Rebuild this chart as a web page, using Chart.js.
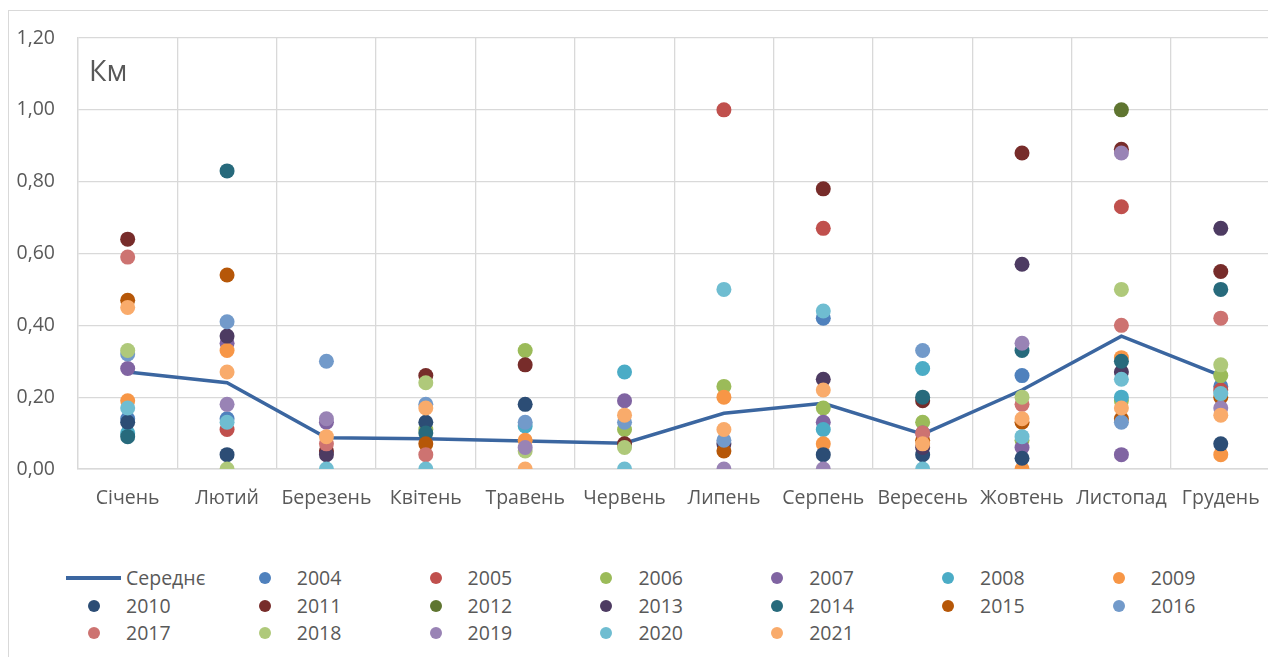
<!DOCTYPE html>
<html><head><meta charset="utf-8">
<script src="https://cdn.jsdelivr.net/npm/chart.js@4.4.1/dist/chart.umd.min.js"></script>
<style>
html,body{margin:0;padding:0;background:#fff;overflow:hidden;width:1268px;height:657px;}
#frame{position:absolute;left:8px;top:10px;width:1400px;height:800px;border:1.5px solid #d9d9d9;box-sizing:border-box;}
#wrap{position:absolute;left:0;top:0;width:1278px;height:530px;}
#unit{position:absolute;left:89px;top:51px;font-family:'Open Sans',sans-serif;font-size:28.5px;color:#595959;line-height:38px;}
.lg{position:absolute;font-family:'Open Sans',sans-serif;font-size:19.5px;color:#595959;line-height:24px;white-space:nowrap;}
.mk{position:absolute;width:12px;height:12px;border-radius:50%;}
.ln{position:absolute;height:3.5px;}
</style></head>
<body>
<div id="frame"></div>
<div id="wrap"><canvas id="c" width="1278" height="530"></canvas></div>
<div id="unit">Км</div>
<div id="legend"></div>
<script>
const months = ['Січень','Лютий','Березень','Квітень','Травень','Червень','Липень','Серпень','Вересень','Жовтень','Листопад','Грудень'];
const yTickLabels = ['0,00','0,20','0,40','0,60','0,80','1,00','1,20'];
const avgLabel = 'Середнє';
const avgValues = [0.27, 0.24, 0.087, 0.084, 0.078, 0.072, 0.155, 0.183, 0.097, 0.22, 0.37, 0.26];
const years = ['2004','2005','2006','2007','2008','2009','2010','2011','2012','2013','2014','2015','2016','2017','2018','2019','2020','2021'];
const v2004 = [0.14, 0.14, null, null, null, null, null, 0.42, null, 0.26, null, 0.23];
const v2005 = [null, 0.11, null, null, null, null, 1.00, 0.67, null, null, 0.73, 0.22];
const v2006 = [null, null, null, 0.11, 0.33, 0.11, 0.23, 0.17, 0.13, 0.08, 0.19, 0.26];
const v2007 = [0.28, 0.35, 0.13, null, null, 0.19, null, 0.13, 0.10, 0.06, 0.04, null];
const v2008 = [0.10, null, null, null, 0.12, 0.27, null, 0.11, 0.28, null, 0.20, null];
const v2009 = [0.19, 0.33, null, null, 0.08, null, 0.20, 0.07, null, 0.00, 0.31, 0.04];
const v2010 = [0.13, 0.04, null, 0.13, 0.18, null, null, 0.04, 0.04, 0.03, null, 0.07];
const v2011 = [0.64, null, 0.05, 0.26, 0.29, 0.07, null, 0.78, 0.19, 0.88, 0.89, 0.55];
const v2012 = [null, null, null, null, null, null, null, null, null, null, 1.00, null];
const v2013 = [null, 0.37, 0.04, null, null, null, 0.07, 0.25, 0.06, 0.57, 0.27, 0.67];
const v2014 = [0.09, 0.83, null, 0.10, null, null, null, null, 0.20, 0.33, 0.30, 0.50];
const v2015 = [0.47, 0.54, null, 0.07, null, null, 0.05, null, 0.08, 0.13, 0.14, 0.20];
const v2016 = [0.32, 0.41, 0.30, 0.18, 0.13, 0.13, 0.08, null, 0.33, null, 0.13, null];
const v2017 = [0.59, null, 0.07, 0.04, null, null, null, null, 0.10, 0.18, 0.40, 0.42];
const v2018 = [0.33, 0.00, null, 0.24, 0.05, 0.06, null, null, null, 0.20, 0.50, 0.29];
const v2019 = [null, 0.18, 0.14, null, 0.06, null, 0.00, 0.00, null, 0.35, 0.88, 0.17];
const v2020 = [0.17, 0.13, 0.00, 0.00, null, 0.00, 0.50, 0.44, 0.00, 0.09, 0.25, 0.21];
const v2021 = [0.45, 0.27, 0.09, 0.17, 0.00, 0.15, 0.11, 0.22, 0.07, 0.14, 0.17, 0.15];
const yearValues = [v2004,v2005,v2006,v2007,v2008,v2009,v2010,v2011,v2012,v2013,v2014,v2015,v2016,v2017,v2018,v2019,v2020,v2021];

const avgColor = '#3b66a0';
const yearColors = ['#4F81BD','#C0504D','#9BBB59','#8064A2','#4BACC6','#F79646',
  '#2C4D75','#772C2A','#5F7530','#4D3B62','#276A7C','#B65708',
  '#729ACA','#CD7371','#AFC97A','#9983B5','#6FBDD1','#F9AB6B'];
const textColor = '#595959';
const gridColor = '#d9d9d9';
const FONT = "'Open Sans'";
const FSIZE = 19.5;

const datasets = [{
  label: avgLabel, data: avgValues, borderColor: avgColor, backgroundColor: avgColor,
  borderWidth: 3.5, pointRadius: 0, tension: 0, order: 100, showLine: true
}];
years.forEach((y, i) => {
  datasets.push({
    label: y, data: yearValues[i], showLine: false,
    backgroundColor: yearColors[i], borderColor: yearColors[i],
    pointRadius: 7.5, pointHoverRadius: 7.5, pointBorderWidth: 0, pointHoverBorderWidth: 0,
    order: 50 - i
  });
});

const chart = new Chart(document.getElementById('c'), {
  type: 'line',
  data: { labels: months, datasets },
  options: {
    responsive: false, animation: false, devicePixelRatio: 1,
    layout: { padding: { left: 0, top: 38, right: 0, bottom: 0 } },
    plugins: { legend: { display: false }, tooltip: { enabled: false } },
    scales: {
      x: {
        offset: true,
        grid: { offset: true, color: gridColor, lineWidth: 1.3, drawTicks: false },
        border: { color: gridColor, width: 1.5 },
        ticks: { color: textColor, font: { family: FONT, size: FSIZE }, padding: 18, maxRotation: 0, autoSkip: false },
        afterFit: s => { s.height = 61; }
      },
      y: {
        min: 0, max: 1.2,
        ticks: { stepSize: 0.2, color: textColor, font: { family: FONT, size: FSIZE }, padding: 23,
          callback: (v, i) => yTickLabels[i] },
        grid: { color: gridColor, lineWidth: 1.3, drawTicks: false },
        border: { color: gridColor, width: 1.3 },
        afterFit: s => { s.width = 78; }
      }
    }
  }
});

// HTML legend built from chart datasets
const lg = document.getElementById('legend');
chart.data.datasets.forEach((ds, k) => {
  const row = Math.floor(k / 7), col = k % 7;
  const tx = 126 + col * 170.8, cy = 578 + row * 27.5;
  if (k === 0) {
    const l = document.createElement('div'); l.className = 'ln';
    l.style.left = '66px'; l.style.width = '55px'; l.style.top = (cy - 1.75) + 'px'; l.style.background = ds.borderColor;
    lg.appendChild(l);
  } else {
    const m = document.createElement('div'); m.className = 'mk';
    m.style.left = (tx - 38) + 'px'; m.style.top = (cy - 6) + 'px'; m.style.background = ds.backgroundColor;
    lg.appendChild(m);
  }
  const t = document.createElement('div'); t.className = 'lg';
  t.textContent = ds.label;
  t.style.left = tx + 'px'; t.style.top = (cy - 12) + 'px';
  lg.appendChild(t);
});
</script>
</body></html>
